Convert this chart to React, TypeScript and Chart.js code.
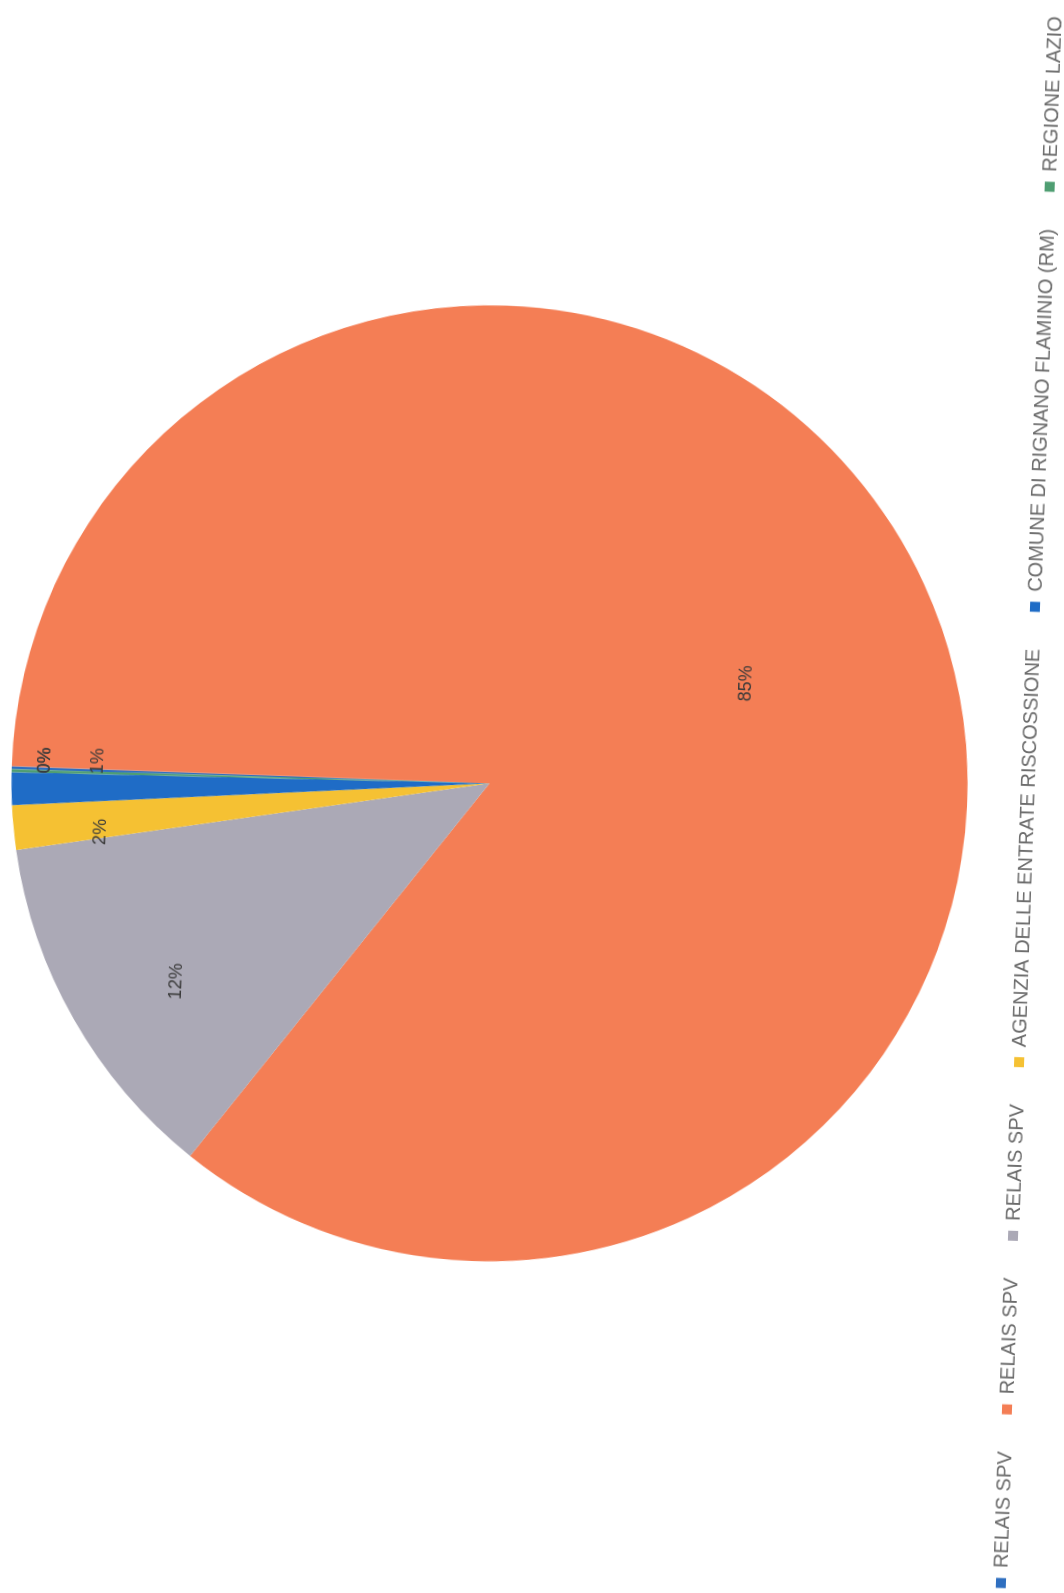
import { useEffect, useRef } from "react";
import { Chart, registerables } from "chart.js";

Chart.register(...registerables);

// ---- data ----
const categories = [
  "RELAIS SPV",
  "RELAIS SPV",
  "RELAIS SPV",
  "AGENZIA DELLE ENTRATE RISCOSSIONE",
  "COMUNE DI RIGNANO FLAMINIO (RM)",
  "REGIONE LAZIO",
];
const shares = [0.1, 85.2, 12.0, 1.5, 1.1, 0.1];
const sliceColors = ["#2f6fc0", "#f47e55", "#aba9b6", "#f5c133", "#1f6cc6", "#4f9e72"];

// label layout (fraction of radius, angular shift in degrees)
const labelRadius = [0.93, 0.576, 0.775, 0.82, 0.82, 0.93];
const labelShift = [1.1, 3.3, -2.7, -1.8, 3.9, 1.4];

const FONT = "'Liberation Sans', Arial, sans-serif";

const sliceLabelPlugin = {
  id: "sliceLabels",
  afterDatasetsDraw(chart: any) {
    const meta = chart.getDatasetMeta(0);
    const ctx = chart.ctx;
    const total = shares.reduce((a, b) => a + b, 0);
    ctx.save();
    ctx.font = `18px ${FONT}`;
    ctx.fillStyle = "#3a3a3a";
    ctx.textAlign = "center";
    ctx.textBaseline = "middle";
    meta.data.forEach((arc: any, i: number) => {
      const p = arc.getProps(["x", "y", "startAngle", "endAngle", "outerRadius"], true);
      const mid = (p.startAngle + p.endAngle) / 2 + (labelShift[i] * Math.PI) / 180;
      const r = p.outerRadius * labelRadius[i];
      const text = Math.round((shares[i] / total) * 100) + "%";
      ctx.fillText(text, p.x + Math.cos(mid) * r, p.y + Math.sin(mid) * r);
    });
    ctx.restore();
  },
};

export default function App() {
  const ref = useRef<HTMLCanvasElement | null>(null);
  useEffect(() => {
    if (!ref.current) return;
    const chart = new Chart(ref.current, {
      type: "pie",
      data: {
        labels: categories,
        datasets: [
          {
            data: shares,
            backgroundColor: sliceColors,
            borderWidth: 0,
            radius: 478,
          } as any,
        ],
      },
      options: {
        responsive: false,
        animation: false,
        events: [],
        rotation: -0.3,
        layout: { padding: 0 },
        plugins: {
          tooltip: { enabled: false },
          legend: {
            position: "bottom",
            labels: {
              boxWidth: 10,
              boxHeight: 10,
              padding: 37,
              color: "#6b6b6b",
              font: { family: FONT, size: 20 },
            },
          },
        },
      },
      plugins: [sliceLabelPlugin],
    });
    return () => chart.destroy();
  }, []);

  return (
    <div
      style={{
        position: "fixed",
        left: 0,
        top: 0,
        width: 1064,
        height: 1593,
        overflow: "hidden",
        background: "#ffffff",
      }}
    >
      <div
        style={{
          position: "absolute",
          left: -327.5,
          top: 259.2,
          width: 1700,
          height: 1051,
          transform: "rotate(-88deg)",
          transformOrigin: "50% 50%",
        }}
      >
        <canvas ref={ref} width={1700} height={1051} style={{ display: "block" }} />
      </div>
    </div>
  );
}
